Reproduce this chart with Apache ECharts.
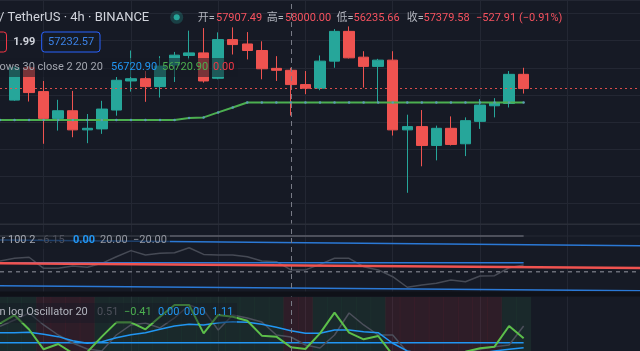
<!DOCTYPE html>
<html><head><meta charset="utf-8">
<script src="https://cdn.jsdelivr.net/npm/echarts@6/dist/echarts.min.js"></script>
<style>html,body{margin:0;padding:0;background:#161a25;overflow:hidden}#c{width:640px;height:351px}</style>
</head><body><div id="c"></div>
<script>
// bar slots (index -1 .. 43); candles occupy 0..35
const categories = [];
for (let i = -1; i <= 43; i++) categories.push(String(i));

const opens  = [56807,58000,57121,56133,56415,55709,55745,56441,57513,57597,57304,58099,58454,58549,57612,59039,58878,58637,57978,57907.49,57380,57246,58245,59343,58391,58051,58282,55709,55829,55134,55767,55196,56023,56598,56682,57758];
const closes = [58000,57085,56133,56415,55709,55767,56477,57539,57597,57304,58062,58465,58549,57513,59039,58856,58637,57963,57907,57379.58,57246,58245,59343,58366,58051,58282,55709,55829,55134,55767,55171,56049,56624,56697,57758,57232.57];
const lows   = [56781,56755,55196,55683,55438,55218,55562,56232,57121,56744,56902,57476,58307,57451,57575,58490,58307,57575,57513,56235.66,57026,57173,58000,58344,57268,56719,55500,53388,54365,54585,55134,54742,55745,56170,56536,57048];
const highs  = [58062,58062,57513,56818,57147,56294,56781,57659,58637,57879,58428,58585,59369,59464,59306,59489,59317,58977,58428,58000,57879,58454,59427,59526,58611,58329,58611,56269,56441,55866,56206,56170,56843,56880,57879,58000];
// main-pane green line, index -1 .. 35
const greenLine = [56075,56075,56075,56075,56075,56075,56075,56075,56075,56075,56075,56075,56075,56148,56170,56353,56536,56720.9,56720.9,56720.9,56720.9,56720.9,56720.9,56720.9,56720.9,56720.9,56720.9,56720.9,56720.9,56720.9,56720.9,56720.9,56720.9,56720.9,56720.9,56720.9,56720.9];
const lastPrice = 57232.57;
const crossIdx = '19';

// pane 2 (index -1 .. 35)
const p2Osc = [6.0,7.5,8.1,1.9,1.9,3.2,2.5,4.7,8.4,11.8,9.4,10.3,10.6,13.4,9.7,9.4,9.4,8.4,6.0,5.6,1.0,1.0,4.1,7.5,7.5,2.8,1.0,-2.8,-8.7,-7.5,-6.5,-4.6,-5.6,-2.4,-2.2,2.2,3.8];
const p2Mid = 5.04, p2Upper = 20;
const p2RedEnds = [4.73, 2.1];
const p2BlueTopEnds = [17.8, 14.5];
const p2BlueBotEnds = [-7.84, -10.6];

// pane 3 (index -1 .. 35)
const p3Green = [1.75,2.5,1.2,-0.60,-0.12,-0.96,-0.85,0.55,1.85,1.85,1.22,2.36,3.43,3.43,0.85,2.52,2.36,2.0,0.64,0.55,-0.42,-0.57,0.85,2.73,0.91,0.31,0.61,-1.12,-2.0,-2.5,-2.2,-1.8,-0.82,-0.51,-0.36,1.52,0.4];
const p3Blue  = [0.9,0.91,0.95,0.76,0.55,0.18,-0.05,0.09,0.45,0.73,0.91,1.22,1.52,1.67,1.61,1.82,1.91,1.85,1.67,1.4,1.09,0.85,0.85,1.15,1.15,1.0,0.91,-0.05,-0.75,-1.0,-1.1,-1.1,-1.0,-0.95,-0.75,-0.6,-0.45];
const p3Gray  = [1.5,2.06,2.7,1.61,0.7,-0.03,-0.57,-0.75,0.7,1.61,1.79,1.34,2.25,3.43,2.97,1.15,2.52,2.25,1.88,0.7,0.52,-0.21,-0.48,0.7,2.7,1.61,0.7,0.7,-0.85,-1.2,-1.0,-0.9,-0.8,-0.6,-0.36,-0.21,1.52];
// background state per bar, index -1 .. 35 (g = bullish, r = bearish)
const p3State = 'gggrrrrgggggggggggggrrgggggrrrrrrrrgg';

const UP = '#26a69a', DOWN = '#ef5350', BLUE = '#2b79d6', GREEN = '#4caf50';
function seriesData(arr, firstIdx) { // arr starts at bar index firstIdx
  return categories.map(c => { const i = +c - firstIdx; return (i >= 0 && i < arr.length) ? arr[i] : '-'; });
}
const candleData = categories.map(c => { const i = +c; return (i >= 0 && i < opens.length) ? [opens[i], closes[i], lows[i], highs[i]] : '-'; });
const bandData = categories.map(c => { const i = +c + 1; if (i >= p3State.length) return '-';
  return { value: 1, itemStyle: { color: p3State[i] === 'g' ? 'rgba(70,175,100,0.10)' : 'rgba(242,54,69,0.11)' } }; });

const STEP = 14.83, LEFT = 9 - STEP, WIDTH = STEP * (categories.length - 1);
const mkX = (g, extra) => Object.assign({ type: 'category', gridIndex: g, data: categories, boundaryGap: false,
  axisLine: { show: false }, axisTick: { show: false }, axisLabel: { show: false }, splitLine: { show: false } }, extra || {});
const mkY = (g, min, max, extra) => Object.assign({ type: 'value', gridIndex: g, min, max, scale: true,
  axisLine: { show: false }, axisTick: { show: false }, axisLabel: { show: false }, splitLine: { show: false } }, extra || {});

const FONT = (s, w) => `${w || 'normal'} ${s}px Roboto, "Noto Sans CJK SC", sans-serif`;
const T = (x, y, text, fill, size, weight) => ({ type: 'text', z: 102, silent: true,
  style: { x, y, text, fill, font: FONT(size, weight), verticalAlign: 'middle', align: 'left' } });
const R = (x, y, w, h, fill, stroke, r, z) => ({ type: 'rect', z: z || 100, silent: true,
  shape: { x, y, width: w, height: h, r: r || 0 }, style: { fill: fill, stroke: stroke || null, lineWidth: 1 } });

const RED = '#f7525f', GRAYT = '#b2b5be', FS = 11;
const option = {
  backgroundColor: '#161a25',
  animation: false,
  grid: [
    { left: LEFT, width: WIDTH, top: -1.61, height: 204.92 },
    { left: LEFT, width: WIDTH, top: 224, height: 67 },
    { left: LEFT, width: WIDTH, top: 297, height: 54 },
    { left: LEFT, width: WIDTH, top: 0, height: 351 }
  ],
  xAxis: [mkX(0), mkX(1), mkX(2),
    mkX(3, { splitLine: { show: true, interval: (i) => (i - 3) % 6 === 0, lineStyle: { color: '#232733', width: 1 } } })],
  yAxis: [
    mkY(0, 53000, 60500, { interval: 1000, scale: false, splitLine: { show: true, lineStyle: { color: '#232733', width: 1 } } }),
    mkY(1, -10.81, 26.72),
    mkY(2, -0.755, 4.155),
    mkY(2, 0, 1),
    mkY(3, 0, 1)
  ],
  series: [
    { type: 'bar', xAxisIndex: 2, yAxisIndex: 3, data: bandData, barCategoryGap: '0%', barWidth: STEP + 0.2, z: 1, silent: true },
    { type: 'line', xAxisIndex: 3, yAxisIndex: 4, data: categories.map(() => '-'), silent: true,
      markLine: { symbol: 'none', silent: true, label: { show: false }, animation: false,
        lineStyle: { type: [5, 4], color: '#787b86', width: 1 }, data: [{ xAxis: crossIdx }] } },
    { type: 'candlestick', xAxisIndex: 0, yAxisIndex: 0, data: candleData, barWidth: 11, clip: false, z: 3,
      itemStyle: { color: UP, color0: DOWN, borderColor: UP, borderColor0: DOWN, borderWidth: 1 },
      markLine: { symbol: 'none', silent: true, label: { show: false },
        lineStyle: { type: [2, 3], color: DOWN, width: 1, opacity: 0.9 }, data: [{ yAxis: lastPrice }] } },
    { type: 'line', xAxisIndex: 0, yAxisIndex: 0, data: seriesData(greenLine, -1), z: 4,
      lineStyle: { color: GREEN, width: 2 }, symbol: 'circle', symbolSize: 2.5, itemStyle: { color: '#5a9bb5' } },
    // pane 2
    { type: 'line', xAxisIndex: 1, yAxisIndex: 1, data: seriesData(p2Osc, -1), symbol: 'none', lineStyle: { color: '#464a55', width: 1.5 } },
    { type: 'line', xAxisIndex: 1, yAxisIndex: 1, data: seriesData(p2Osc.map(() => p2Mid), -1), symbol: 'none', lineStyle: { color: BLUE, width: 1.5 } },
    { type: 'line', xAxisIndex: 1, yAxisIndex: 1, data: seriesData(p2Osc.map(() => p2Upper), -1), symbol: 'none', lineStyle: { color: '#5d606b', width: 1.5 } },
    { type: 'line', xAxisIndex: 1, yAxisIndex: 1, data: [['-1', p2Upper], ['43', p2Upper]], symbol: 'none', lineStyle: { color: '#262a35', width: 1 }, z: 1 },
    { type: 'line', xAxisIndex: 1, yAxisIndex: 1, data: [['-1', p2BlueTopEnds[0]], ['43', p2BlueTopEnds[1]]], symbol: 'none', lineStyle: { color: BLUE, width: 1.5 } },
    { type: 'line', xAxisIndex: 1, yAxisIndex: 1, data: [['-1', p2BlueBotEnds[0]], ['43', p2BlueBotEnds[1]]], symbol: 'none', lineStyle: { color: BLUE, width: 1.5 } },
    { type: 'line', xAxisIndex: 1, yAxisIndex: 1, data: [['-1', 0], ['43', 0]], symbol: 'none', lineStyle: { color: '#6a6d78', width: 1.5, type: [4, 4] } },
    { type: 'line', xAxisIndex: 1, yAxisIndex: 1, data: [['-1', p2RedEnds[0]], ['43', p2RedEnds[1]]], symbol: 'none', lineStyle: { color: '#f05350', width: 2.5 }, z: 5 },
    // pane 3
    { type: 'line', xAxisIndex: 2, yAxisIndex: 2, data: seriesData(p3Gray.map(() => 0), -1), symbol: 'none', lineStyle: { color: '#2196f3', width: 1.5 } },
    { type: 'line', xAxisIndex: 2, yAxisIndex: 2, data: seriesData(p3Gray, -1), symbol: 'none', lineStyle: { color: '#4c4f5b', width: 1.5 } },
    { type: 'line', xAxisIndex: 2, yAxisIndex: 2, data: seriesData(p3Blue, -1), symbol: 'none', lineStyle: { color: '#2196f3', width: 1.5 } },
    { type: 'line', xAxisIndex: 2, yAxisIndex: 2, data: seriesData(p3Green, -1), symbol: 'none', lineStyle: { color: '#5cbf4a', width: 2 } }
  ],
  graphic: [
    // pane separators
    R(0, 223.5, 640, 1.5, '#2a2e39', null, 0, 99),
    R(0, 291.5, 640, 5, '#0f1118', null, 0, 99),
    // legend backgrounds
    R(0, 58, 238, 19, 'rgba(22,26,37,0.55)'),
    R(0, 232, 170, 17, 'rgba(22,26,37,0.6)'),
    R(0, 303, 237, 20, 'rgba(22,26,37,0.45)'),
    // row 1
    T(-1, 18, '/ TetherUS · 4h · BINANCE', '#d1d4dc', 13),
    { type: 'circle', z: 101, silent: true, shape: { cx: 176.7, cy: 17.3, r: 6.5 }, style: { fill: 'rgba(38,166,154,0.28)' } },
    { type: 'circle', z: 102, silent: true, shape: { cx: 176.7, cy: 17.3, r: 3 }, style: { fill: '#26a69a' } },
    T(197.7, 18, '开=', GRAYT, FS), T(216, 18, '57907.49', RED, FS),
    T(266.7, 18, '高=', GRAYT, FS), T(285, 18, '58000.00', RED, FS),
    T(336.5, 18, '低=', GRAYT, FS), T(353.5, 18, '56235.66', RED, FS),
    T(406.7, 18, '收=', GRAYT, FS), T(423.5, 18, '57379.58', RED, FS),
    T(476, 18, '−527.91', RED, FS), T(519, 18, '(−0.91%)', RED, FS),
    // row 2
    R(-6, 32, 12.5, 20, 'rgba(22,26,37,0.6)', '#f23645', 3, 101),
    T(13.3, 42, '1.99', '#d1d4dc', FS, 'bold'),
    R(41.7, 32, 58.3, 20, 'rgba(22,26,37,0.6)', '#2962ff', 3, 101),
    T(48, 42, '57232.57', '#3b82e6', FS),
    // row 3
    T(-0.5, 67, 'ows 30 close 2 20 20', '#a3a6af', FS),
    T(111, 67, '56720.90', '#2196f3', FS), T(162, 67, '56720.90', GREEN, FS), T(213, 67, '0.00', '#f23645', FS),
    // pane 2 legend
    T(1.5, 240, 'r 100 2', '#a3a6af', FS), T(37, 240, '−6.15', '#4e515c', FS), T(73, 240, '0.00', '#2196f3', FS, 'bold'),
    T(100, 240, '20.00', '#9598a1', FS), T(133, 240, '−20.00', '#9598a1', FS),
    // pane 3 legend
    T(-0.5, 312.7, 'n log Oscillator 20', '#b2b5be', FS), T(97, 312.7, '0.51', '#4e515c', FS),
    T(124, 312.7, '−0.41', GREEN, FS), T(158, 312.7, '0.00', '#2196f3', FS), T(184, 312.7, '0.00', '#2196f3', FS),
    T(212, 312.7, '1.11', '#2196f3', FS)
  ]
};
echarts.init(document.getElementById('c')).setOption(option);
</script></body></html>
